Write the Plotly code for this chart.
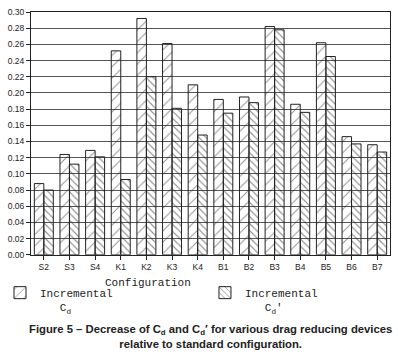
import plotly.graph_objects as go

categories = ["S2", "S3", "S4", "K1", "K2", "K3", "K4", "B1", "B2", "B3", "B4", "B5", "B6", "B7"]
cd_values = [0.088, 0.124, 0.129, 0.252, 0.292, 0.261, 0.210, 0.192, 0.195, 0.282, 0.186, 0.262, 0.146, 0.136]
cdp_values = [0.080, 0.112, 0.121, 0.093, 0.220, 0.181, 0.148, 0.175, 0.188, 0.278, 0.176, 0.245, 0.137, 0.127]
y_ticks = [round(0.02 * i, 2) for i in range(16)]
y_tick_labels = [f"{v:.2f}" for v in y_ticks]

nb = "\u00a0"
clear = "rgba(0,0,0,0)"
fig = go.Figure()
fig.add_trace(go.Bar(
    x=categories, y=cd_values, legend="legend",
    name="Incremental<br>" + nb * 3 + "C<sub>d</sub>",
    marker=dict(color=clear, line=dict(color="#222", width=1),
                pattern=dict(shape="/", size=8, solidity=0.12, fgcolor="#222", bgcolor=clear)),
))
fig.add_trace(go.Bar(
    x=categories, y=cdp_values, legend="legend2",
    name="Incremental<br>" + nb * 3 + "C<sub>d</sub>'",
    marker=dict(color=clear, line=dict(color="#222", width=1),
                pattern=dict(shape="\\", size=5, solidity=0.22, fgcolor="#222", bgcolor=clear)),
))

legend_font = dict(family="Liberation Mono, Courier New", size=11, color="#222")
fig.update_layout(
    width=398, height=360,
    margin=dict(l=31, r=7, t=12, b=104),
    barmode="group", bargap=0.26, bargroupgap=0,
    plot_bgcolor="white", paper_bgcolor="white",
    font=dict(family="Liberation Sans, Arial", size=8.5, color="#222"),
    showlegend=True,
    legend=dict(orientation="h", xref="container", yref="container",
                x=0.0, y=0.225, xanchor="left", yanchor="top", valign="top",
                font=legend_font, bgcolor="rgba(0,0,0,0)"),
    legend2=dict(orientation="h", xref="container", yref="container",
                 x=0.515, y=0.225, xanchor="left", yanchor="top", valign="top",
                 font=legend_font, bgcolor="rgba(0,0,0,0)"),
    xaxis=dict(showline=True, linecolor="#222", linewidth=1, mirror=True,
               ticks="outside", ticklen=4, tickcolor="#222",
               tickfont=dict(size=8.5), showgrid=False),
    yaxis=dict(range=[0, 0.30], tickvals=y_ticks, ticktext=y_tick_labels,
               showline=True, linecolor="#222", linewidth=1, mirror=True,
               ticks="outside", ticklen=4, tickcolor="#222",
               showgrid=True, gridcolor="#555", gridwidth=1,
               tickfont=dict(size=8.5), zeroline=False),
    annotations=[
        dict(text="Configuration", xref="paper", yref="paper", x=0.325, y=-0.082,
             xanchor="center", yanchor="top", showarrow=False,
             font=dict(family="Liberation Mono, Courier New", size=11, color="#222")),
        dict(text="<b>Figure 5 – Decrease of C<sub>d</sub> and C<sub>d</sub>′ for various drag reducing devices<br>relative to standard configuration.</b>",
             xref="paper", yref="paper", x=0.5, y=-0.272, xanchor="center", yanchor="top",
             showarrow=False, align="center",
             font=dict(family="Liberation Sans, Arial", size=11.3, color="#222")),
    ],
)

fig.write_html("out.html", config={"displayModeBar": False},
               post_script="document.body.style.margin='0';")
